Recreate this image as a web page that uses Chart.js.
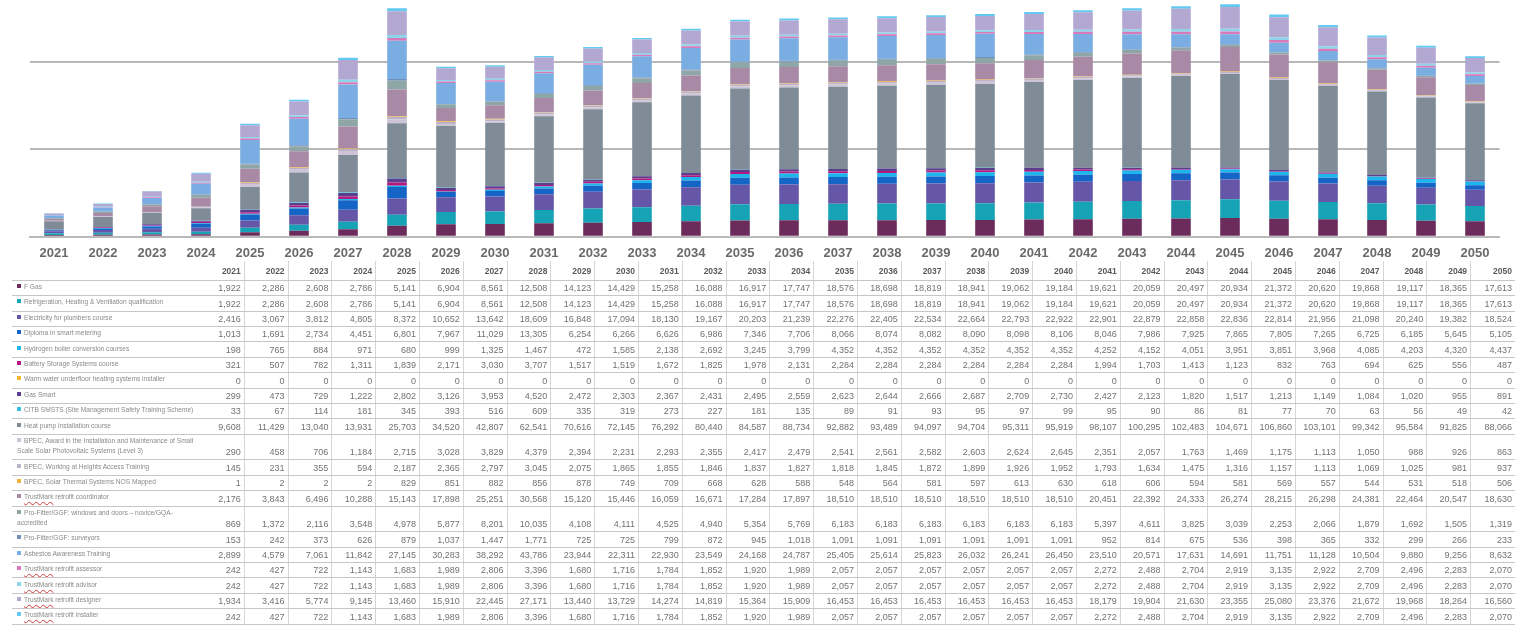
<!DOCTYPE html>
<html>
<head>
<meta charset="utf-8">
<script src="https://cdn.jsdelivr.net/npm/chart.js@4.4.1/dist/chart.umd.min.js"></script>
<style>
  html, body { margin: 0; padding: 0; background: #fff; }
  body { width: 1515px; height: 625px; overflow: hidden; font-family: "Liberation Sans", Arial, sans-serif; }
  #chart-box { position: relative; width: 1515px; height: 269.3px; }
  #data-table { position: relative; width: 1503px; margin: -8.3px 0 0 12px; }
  .trow { display: flex; box-sizing: border-box; height: 15.43px; border-bottom: 1px solid #c6c6c6; overflow: hidden; }
  .trow.tall { height: 25.5px; }
  .trow.head { height: 19.7px; }
  .cell { box-sizing: border-box; width: 43.8px; flex: none; display: flex; align-items: flex-end; justify-content: flex-end;
    padding: 0 3px 1px 0; border-right: 1px solid #d6d6d6; font-size: 9px; line-height: 11px; color: #727272; white-space: nowrap; }
  .cell:last-child { border-right: none; }
  .head .cell { font-size: 8.5px; font-weight: bold; color: #5a5a5a; padding-bottom: 3px; }
  .name { box-sizing: border-box; width: 189px; flex: none; display: flex; align-items: center; padding: 0 0 2px 5px;
    font-size: 6.6px; line-height: 10px; color: #8a8a8a; white-space: pre; }
  .mark { display: inline-block; width: 4px; height: 4px; margin-right: 3px; vertical-align: 1px; }
  .tm { text-decoration: underline wavy #d23a3a; text-decoration-thickness: 1px; text-underline-offset: 2px; }
</style>
</head>
<body>
<div id="chart-box"><canvas id="skills-chart"></canvas></div>
<div id="data-table"></div>
<script>
'use strict';

var years = ['2021', '2022', '2023', '2024', '2025', '2026', '2027', '2028', '2029', '2030',
  '2031', '2032', '2033', '2034', '2035', '2036', '2037', '2038', '2039', '2040',
  '2041', '2042', '2043', '2044', '2045', '2046', '2047', '2048', '2049', '2050'];

// value axis: gridlines only, no labels
var yTicks = [0, 100000, 200000];
var yMax = 271000;

var fGas = [1922, 2286, 2608, 2786, 5141, 6904, 8561, 12508, 14123, 14429, 15258, 16088, 16917, 17747, 18576, 18698, 18819, 18941, 19062, 19184, 19621, 20059, 20497, 20934, 21372, 20620, 19868, 19117, 18365, 17613];
var refrigeration = [1922, 2286, 2608, 2786, 5141, 6904, 8561, 12508, 14123, 14429, 15258, 16088, 16917, 17747, 18576, 18698, 18819, 18941, 19062, 19184, 19621, 20059, 20497, 20934, 21372, 20620, 19868, 19117, 18365, 17613];
var electricity = [2416, 3067, 3812, 4805, 8372, 10652, 13642, 18609, 16848, 17094, 18130, 19167, 20203, 21239, 22276, 22405, 22534, 22664, 22793, 22922, 22901, 22879, 22858, 22836, 22814, 21956, 21098, 20240, 19382, 18524];
var smartMetering = [1013, 1691, 2734, 4451, 6801, 7967, 11029, 13305, 6254, 6266, 6626, 6986, 7346, 7706, 8066, 8074, 8082, 8090, 8098, 8106, 8046, 7986, 7925, 7865, 7805, 7265, 6725, 6185, 5645, 5105];
var hydrogen = [198, 765, 884, 971, 680, 999, 1325, 1467, 472, 1585, 2138, 2692, 3245, 3799, 4352, 4352, 4352, 4352, 4352, 4352, 4252, 4152, 4051, 3951, 3851, 3968, 4085, 4203, 4320, 4437];
var battery = [321, 507, 782, 1311, 1839, 2171, 3030, 3707, 1517, 1519, 1672, 1825, 1978, 2131, 2284, 2284, 2284, 2284, 2284, 2284, 1994, 1703, 1413, 1123, 832, 763, 694, 625, 556, 487];
var warmWater = [0, 0, 0, 0, 0, 0, 0, 0, 0, 0, 0, 0, 0, 0, 0, 0, 0, 0, 0, 0, 0, 0, 0, 0, 0, 0, 0, 0, 0, 0];
var gasSmart = [299, 473, 729, 1222, 2802, 3126, 3953, 4520, 2472, 2303, 2367, 2431, 2495, 2559, 2623, 2644, 2666, 2687, 2709, 2730, 2427, 2123, 1820, 1517, 1213, 1149, 1084, 1020, 955, 891];
var citb = [33, 67, 114, 181, 345, 393, 516, 609, 335, 319, 273, 227, 181, 135, 89, 91, 93, 95, 97, 99, 95, 90, 86, 81, 77, 70, 63, 56, 49, 42];
var heatPump = [9608, 11429, 13040, 13931, 25703, 34520, 42807, 62541, 70616, 72145, 76292, 80440, 84587, 88734, 92882, 93489, 94097, 94704, 95311, 95919, 98107, 100295, 102483, 104671, 106860, 103101, 99342, 95584, 91825, 88066];
var bpecSolarPv = [290, 458, 706, 1184, 2715, 3028, 3829, 4379, 2394, 2231, 2293, 2355, 2417, 2479, 2541, 2561, 2582, 2603, 2624, 2645, 2351, 2057, 1763, 1469, 1175, 1113, 1050, 988, 926, 863];
var bpecHeights = [145, 231, 355, 594, 2187, 2365, 2797, 3045, 2075, 1865, 1855, 1846, 1837, 1827, 1818, 1845, 1872, 1899, 1926, 1952, 1793, 1634, 1475, 1316, 1157, 1113, 1069, 1025, 981, 937];
var bpecSolarThermal = [1, 2, 2, 2, 829, 851, 882, 856, 878, 749, 709, 668, 628, 588, 548, 564, 581, 597, 613, 630, 618, 606, 594, 581, 569, 557, 544, 531, 518, 506];
var tmCoordinator = [2176, 3843, 6496, 10288, 15143, 17898, 25251, 30568, 15120, 15446, 16059, 16671, 17284, 17897, 18510, 18510, 18510, 18510, 18510, 18510, 20451, 22392, 24333, 26274, 28215, 26298, 24381, 22464, 20547, 18630];
var proFitterWindows = [869, 1372, 2116, 3548, 4978, 5877, 8201, 10035, 4108, 4111, 4525, 4940, 5354, 5769, 6183, 6183, 6183, 6183, 6183, 6183, 5397, 4611, 3825, 3039, 2253, 2066, 1879, 1692, 1505, 1319];
var proFitterSurveyors = [153, 242, 373, 626, 879, 1037, 1447, 1771, 725, 725, 799, 872, 945, 1018, 1091, 1091, 1091, 1091, 1091, 1091, 952, 814, 675, 536, 398, 365, 332, 299, 266, 233];
var asbestos = [2899, 4579, 7061, 11842, 27145, 30283, 38292, 43786, 23944, 22311, 22930, 23549, 24168, 24787, 25405, 25614, 25823, 26032, 26241, 26450, 23510, 20571, 17631, 14691, 11751, 11128, 10504, 9880, 9256, 8632];
var tmAssessor = [242, 427, 722, 1143, 1683, 1989, 2806, 3396, 1680, 1716, 1784, 1852, 1920, 1989, 2057, 2057, 2057, 2057, 2057, 2057, 2272, 2488, 2704, 2919, 3135, 2922, 2709, 2496, 2283, 2070];
var tmAdvisor = [242, 427, 722, 1143, 1683, 1989, 2806, 3396, 1680, 1716, 1784, 1852, 1920, 1989, 2057, 2057, 2057, 2057, 2057, 2057, 2272, 2488, 2704, 2919, 3135, 2922, 2709, 2496, 2283, 2070];
var tmDesigner = [1934, 3416, 5774, 9145, 13460, 15910, 22445, 27171, 13440, 13729, 14274, 14819, 15364, 15909, 16453, 16453, 16453, 16453, 16453, 16453, 18179, 19904, 21630, 23355, 25080, 23376, 21672, 19968, 18264, 16560];
var tmInstaller = [242, 427, 722, 1143, 1683, 1989, 2806, 3396, 1680, 1716, 1784, 1852, 1920, 1989, 2057, 2057, 2057, 2057, 2057, 2057, 2272, 2488, 2704, 2919, 3135, 2922, 2709, 2496, 2283, 2070];

var seriesNames = [
  'F Gas',
  'Refrigeration, Heating & Ventilation qualification',
  'Electricity for plumbers course',
  'Diploma in smart metering',
  'Hydrogen boiler conversion courses',
  'Battery Storage Systems course',
  'Warm water underfloor heating systems installer',
  'Gas Smart',
  'CITB SMSTS (Site Management Safety Training Scheme)',
  'Heat pump installation course',
  'BPEC, Award in the Installation and Maintenance of Small\nScale Solar Photovoltaic Systems (Level 3)',
  'BPEC, Working at Heights Access Training',
  'BPEC, Solar Thermal Systems NOS Mapped',
  'TrustMark retrofit coordinator',
  'Pro-Fitter/GGF: windows and doors \u2013 novice/GQA-\naccredited',
  'Pro-Fitter/GGF: surveyors',
  'Asbestos Awareness Training',
  'TrustMark retrofit assessor',
  'TrustMark retrofit advisor',
  'TrustMark retrofit designer',
  'TrustMark retrofit installer'
];

var seriesValues = [fGas, refrigeration, electricity, smartMetering, hydrogen, battery, warmWater, gasSmart, citb,
  heatPump, bpecSolarPv, bpecHeights, bpecSolarThermal, tmCoordinator, proFitterWindows, proFitterSurveyors,
  asbestos, tmAssessor, tmAdvisor, tmDesigner, tmInstaller];

var seriesColors = ['#6b2c5c', '#17a3b6', '#6556a7', '#1565c6', '#1db6ec', '#b4197f', '#f3b62e', '#5b3f8e', '#35c2e2',
  '#7f8c97', '#cdc4d6', '#bcb3c8', '#f0b43c', '#a98aa6', '#8fa6a7', '#7290bb',
  '#7aaee2', '#d879b9', '#8cd4ea', '#b2a8d2', '#62c9f0'];

var datasets = seriesValues.map(function (vals, i) {
  return { label: seriesNames[i], data: vals, backgroundColor: seriesColors[i], borderWidth: 0,
    barPercentage: 0.4, categoryPercentage: 1.0 };
});

new Chart(document.getElementById('skills-chart').getContext('2d'), {
  type: 'bar',
  data: { labels: years, datasets: datasets },
  options: {
    responsive: true, maintainAspectRatio: false, animation: false,
    layout: { padding: { left: 29.5, right: 15.5, top: 0, bottom: 0 } },
    plugins: { legend: { display: false }, tooltip: { enabled: false } },
    scales: {
      x: { stacked: true,
        grid: { display: false, drawTicks: false },
        border: { color: '#bababa', width: 2 },
        ticks: { color: '#6a6a6a', padding: 8.5, autoSkip: false, maxRotation: 0,
          font: { family: 'Liberation Sans', size: 13, weight: 'bold' } } },
      y: { stacked: true, min: 0, max: yMax,
        border: { display: false },
        ticks: { display: false },
        afterBuildTicks: function (scale) {
          scale.ticks = yTicks.map(function (v) { return { value: v }; });
        },
        grid: { drawTicks: false, lineWidth: 2,
          color: function (ctx) {
            return (ctx.tick && ctx.tick.value > 0) ? '#b8b8b8' : 'rgba(0,0,0,0)';
          } } }
    }
  }
});

// data table under the chart
function fmt(n) { return n.toLocaleString('en-US'); }

function nameHtml(name) {
  return name.replace('TrustMark', '<span class="tm">TrustMark</span>');
}

var html = '<div class="trow head"><div class="name"></div>';
years.forEach(function (y) { html += '<div class="cell">' + y + '</div>'; });
html += '</div>';
seriesValues.forEach(function (vals, i) {
  var tall = seriesNames[i].indexOf('\n') >= 0;
  html += '<div class="trow' + (tall ? ' tall' : '') + '"><div class="name"><div><span class="mark" style="background:' +
    seriesColors[i] + '"></span>' + nameHtml(seriesNames[i]) + '</div></div>';
  vals.forEach(function (v) { html += '<div class="cell">' + fmt(v) + '</div>'; });
  html += '</div>';
});
document.getElementById('data-table').innerHTML = html;
</script>
</body>
</html>
